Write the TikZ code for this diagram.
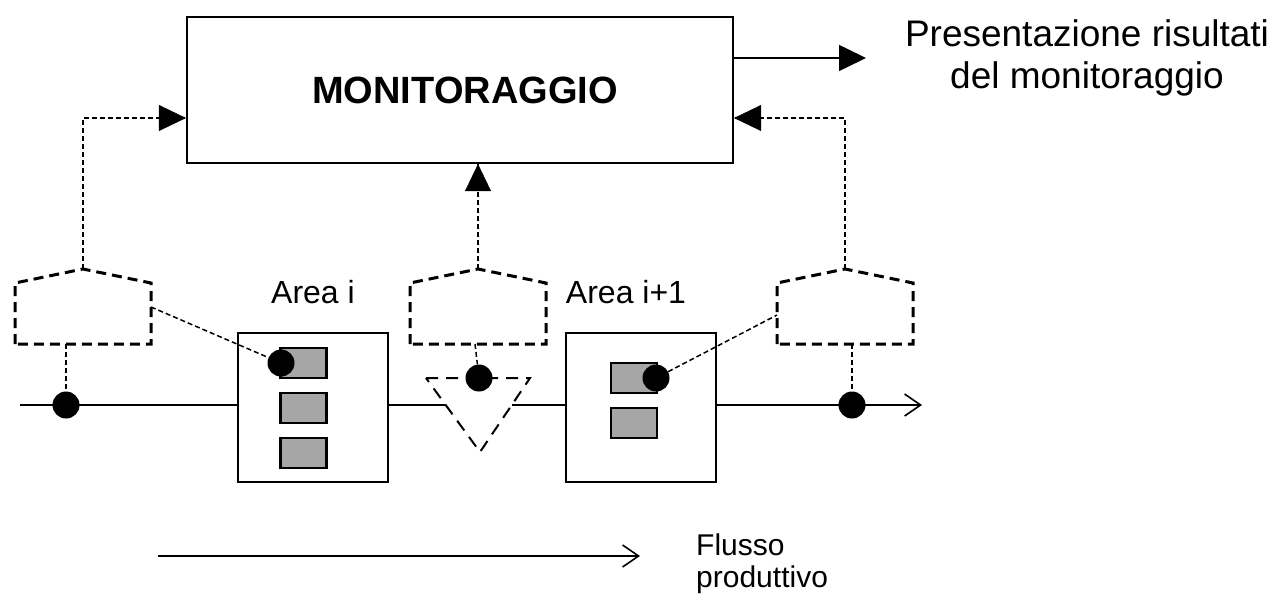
\documentclass[tikz,border=0pt]{standalone}
\usepackage{fontspec}
\setmainfont{Liberation Sans}
\usetikzlibrary{arrows.meta,calc}
\definecolor{slotgray}{HTML}{A6A6A6}
\begin{document}
\begin{tikzpicture}[x=1pt,y=-1pt,
  frame/.style={draw,line width=2.2pt,inner sep=0pt},
  slot/.style={draw,fill=slotgray,line width=2.2pt,minimum width=46pt,minimum height=30pt,inner sep=0pt},
  dot/.style={circle,fill=black,minimum size=27pt,inner sep=0pt},
  flow/.style={line width=1.8pt},
  probe/.style={line width=1.5pt,dash pattern=on 5pt off 3pt},
  sensorline/.style={line width=3pt,dash pattern=on 10pt off 6pt},
  bigtip/.style={-{Triangle[length=27pt,width=26pt]}},
  opentip/.style={-{Straight Barb[length=16pt,width=22pt,line width=1.6pt]}},
  lbl/.style={font=\fontsize{32}{36}\selectfont,inner sep=0pt},
  sensor/.pic={
    \draw[sensorline] (-68,75) -- (-68,14) -- (0,0) -- (68,14) -- (68,75) -- cycle;
    \coordinate (-apex) at (0,0);
    \coordinate (-e) at (68,38);
    \coordinate (-w) at (-68,46);
    \coordinate (-s) at (0,75);
  }]
\useasboundingbox (0,0) rectangle (1276,597);

% monitoring block and its output
\node[frame,minimum width=546pt,minimum height=146pt,
      font=\bfseries\fontsize{38}{42}\selectfont] (mon) at (460,90) {\hspace*{10pt}MONITORAGGIO};
\coordinate (outEnd) at (866,58);
\draw[flow,line width=1.5pt,bigtip] (mon.east |- outEnd) -- (outEnd);
\node[font=\fontsize{37}{42}\selectfont,inner sep=0pt,anchor=base] (res1) at (1087,46) {Presentazione risultati};
\node[font=\fontsize{37}{42}\selectfont,inner sep=0pt,anchor=base] (res2) at (1087,88) {del monitoraggio};

% sensors
\pic (sL) at (83,269) {sensor};
\pic (sM) at (478,269) {sensor};
\pic (sR) at (845,269) {sensor};

% working areas
\node[frame,minimum width=150pt,minimum height=149pt] (areaA) at (313,407.5) {};
\node[frame,minimum width=150pt,minimum height=149pt] (areaB) at (641,407.5) {};
\node[lbl,anchor=base] (labA) at (313,303) {Area i};
\node[lbl,anchor=base] (labB) at (626,303) {Area i+1};

\node[slot] (a1) at (303.5,363) {};
\node[slot] (a2) at (303.5,408) {};
\node[slot] (a3) at (303.5,453) {};
\node[slot] (b1) at (634,378) {};
\node[slot] (b2) at (634,423) {};

% buffer between the areas
\coordinate (tA) at (426,378);
\coordinate (tB) at (530,378);
\coordinate (tC) at (480,452);
\draw[line width=2pt,dash pattern=on 12pt off 8pt] (tA) -- (tB) -- (tC) -- cycle;
\coordinate (tinL) at ($(tA)!0.365!(tC)$);
\coordinate (tinR) at ($(tB)!0.365!(tC)$);

% production line
\coordinate (lineStart) at (20,405);
\coordinate (lineEnd) at (922,405);
\draw[flow] (lineStart) -- (areaA.west |- lineStart);
\draw[flow] (areaA.east |- lineStart) -- (tinL);
\draw[flow] (tinR) -- (areaB.west |- tinR);
\draw[flow,opentip] (areaB.east |- lineStart) -- (lineEnd);

% measuring points
\node[dot] (pIn) at (66,405) {};
\node[dot] (pA) at (281,363) {};
\node[dot] (pBuf) at (479,378) {};
\node[dot] (pB) at (656,378) {};
\node[dot] (pOut) at (852,405) {};

\draw[probe] (sL-s -| pIn) -- (pIn);
\draw[probe] (sL-e) -- (pA);
\draw[probe] ($(sM-s)+(-3,0)$) -- (pBuf);
\draw[probe] (pB) -- (sR-w);
\draw[probe] (sR-s -| pOut) -- (pOut);

% reports to the monitoring block
\draw[probe] (sL-apex) |- (mon.west |- 0,118) coordinate (inL);
\draw[bigtip] ($(inL)+(-1,0)$) -- (inL);
\draw[probe] (sR-apex) |- (mon.east |- 0,118) coordinate (inR);
\draw[bigtip] ($(inR)+(1,0)$) -- (inR);
\draw[probe] (sM-apex) -- (sM-apex |- mon.south) coordinate (inM);
\draw[bigtip] ($(inM)+(0,1)$) -- (inM);

% direction of flow
\coordinate (flowStart) at (158,556);
\coordinate (flowEnd) at (640,556);
\draw[flow,line width=1.5pt,opentip] (flowStart) -- (flowEnd);
\node[font=\fontsize{30}{32}\selectfont,inner sep=0pt,anchor=base west] (fl1) at (696,555) {Flusso};
\node[font=\fontsize{30}{32}\selectfont,inner sep=0pt,anchor=base west] (fl2) at (696,587) {produttivo};
\end{tikzpicture}
\end{document}
